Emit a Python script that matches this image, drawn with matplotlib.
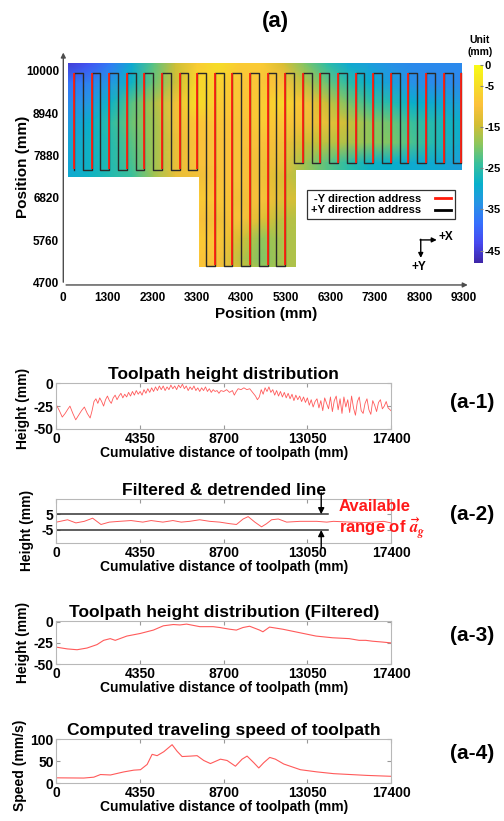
import numpy as np
import pandas as pd
import matplotlib
matplotlib.use('Agg')
import matplotlib.pyplot as plt
from matplotlib.colors import LinearSegmentedColormap
from matplotlib.patches import Polygon
from matplotlib.lines import Line2D

plt.rcParams['font.family'] = ['Liberation Sans', 'DejaVu Sans']
plt.rcParams['font.weight'] = 'bold'
plt.rcParams['axes.labelweight'] = 'bold'
plt.rcParams['axes.titleweight'] = 'bold'
plt.rcParams['axes.unicode_minus'] = False
plt.rcParams['mathtext.fontset'] = 'stix'

nan = np.nan

# ---------------- (a) floor height map ----------------
map_x = [100, 600, 1100, 1600, 2100, 2600, 3100, 3600, 4100, 4600,
         5100, 5600, 6100, 6600, 7100, 7600, 8100, 8600, 9250]
map_y = [10190, 9700, 9200, 8700, 8200, 7700, 7350, 6800, 6300, 5800, 5300, 5100]
map_z = [
    [-45, -42, -37, -30, -22, -15, -8, -5, -8, -8, -14, -20, -25, -30, -32, -34, -35, -35, -35],
    [-38, -36, -33, -28, -21, -15, -6, -7, -9, -9, -10, -16, -21, -25, -29, -32, -34, -35, -35],
    [-35, -33, -28, -22, -17, -11, -5, -8, -9, -8, -6, -10, -15, -20, -24, -26, -29, -30, -32],
    [-33, -29, -25, -21, -18, -11, -9, -9, -10, -8, -9, -11, -12, -15, -19, -21, -24, -26, -29],
    [-31, -28, -26, -22, -18, -12, -10, -10, -10, -10, -11, -15, -16, -17, -19, -20, -23, -26, -30],
    [-31, -28, -26, -23, -18, -12, -10, -10, -10, -11, -12, -18, -22, -25, -28, -29, -30, -30, -32],
    [-30, -28, -26, -24, -18, -12, -11, -10, -10, -11, -14, nan, nan, nan, nan, nan, nan, nan, nan],
    [nan, nan, nan, nan, nan, nan, -8, -9, -11, -10, -13, -15, nan, nan, nan, nan, nan, nan, nan],
    [nan, nan, nan, nan, nan, nan, -10, -11, -10, -13, -16, -17, nan, nan, nan, nan, nan, nan, nan],
    [nan, nan, nan, nan, nan, nan, -8, -9, -14, -19, -17, -17, nan, nan, nan, nan, nan, nan, nan],
    [nan, nan, nan, nan, nan, nan, -9, -10, -16, -20, -17, -17, nan, nan, nan, nan, nan, nan, nan],
    [nan, nan, nan, nan, nan, nan, -9, -10, -15, -19, -17, -17, nan, nan, nan, nan, nan, nan, nan],
]
# outline of the measured floor (T shape)
area_x = [100, 9250, 9250, 5400, 5400, 3150, 3150, 100]
area_y = [10190, 10190, 7521, 7521, 5100, 5100, 7354, 7354]

# serpentine toolpath: 45 vertical passes
path_first_x = 248
path_pitch = 204.2
path_top = 9958
pass_bottom = [7521] * 7 + [5125] * 5 + [7689] * 10   # one per +Y (down) pass

pos_ticks = ['0', '1300', '2300', '3300', '4300', '5300', '6300', '7300', '8300', '9300']
y_ticks = [10000, 8940, 7880, 6820, 5760, 4700]
cbar_ticks = [0, -5, -15, -25, -35, -45]

# ---------------- (a-1) .. (a-4) profiles ----------------
raw_x = [0, 150, 300, 450, 600, 700, 850, 1000, 1150, 1300,
         1450, 1600, 1750, 1850, 1950, 2050, 2150, 2250, 2350, 2450,
         2550, 2650, 2750, 2850, 2950, 3050, 3150, 3250, 3350, 3450,
         3550, 3650, 3750, 3850, 3950, 4050, 4150, 4250, 4350, 4450,
         4550, 4650, 4750, 4850, 4950, 5050, 5150, 5250, 5350, 5450,
         5550, 5650, 5750, 5850, 5950, 6050, 6150, 6250, 6350, 6450,
         6550, 6650, 6750, 6850, 6950, 7050, 7150, 7250, 7350, 7450,
         7550, 7650, 7750, 7850, 7950, 8050, 8150, 8250, 8350, 8450,
         8550, 8700, 8850, 9000, 9150, 9250, 9350, 9450, 9600, 9750,
         9900, 10050, 10200, 10350, 10450, 10550, 10650, 10750, 10850, 10950,
         11050, 11150, 11250, 11350, 11450, 11550, 11650, 11750, 11850, 11950,
         12050, 12150, 12250, 12350, 12450, 12550, 12650, 12750, 12850, 12950,
         13050, 13150, 13250, 13350, 13450, 13550, 13650, 13750, 13850, 13950,
         14050, 14150, 14250, 14350, 14450, 14550, 14650, 14750, 14850, 14950,
         15050, 15150, 15250, 15350, 15450, 15550, 15650, 15750, 15850, 15950,
         16050, 16150, 16250, 16350, 16450, 16550, 16650, 16750, 16850, 16950,
         17050, 17150, 17250, 17400]
raw_h = [-24, -30, -37, -33, -28, -25, -33, -40, -35, -30,
         -26, -33, -38, -30, -20, -17, -22, -16, -20, -25,
         -18, -14, -19, -22, -16, -13, -18, -14, -11, -16,
         -12, -15, -10, -14, -9, -13, -8, -12, -9, -13,
         -7, -11, -6, -10, -5, -9, -4, -8, -3, -7,
         -3, -8, -4, -7, -2, -6, -3, -7, -2, -5,
         -1, -6, -3, -8, -4, -7, -3, -8, -5, -9,
         -5, -8, -4, -9, -6, -10, -7, -9, -8, -11,
         -8, -9, -7, -10, -8, -13, -9, -6, -7, -5,
         -7, -6, -10, -14, -18, -15, -7, -12, -5, -9,
         -4, -10, -7, -13, -8, -14, -9, -15, -10, -16,
         -11, -17, -12, -19, -13, -18, -14, -20, -15, -21,
         -16, -24, -18, -26, -20, -17, -27, -19, -30, -16,
         -22, -28, -15, -31, -19, -14, -29, -17, -33, -15,
         -26, -18, -32, -14, -27, -35, -20, -15, -30, -33,
         -22, -17, -29, -34, -19, -24, -31, -21, -18, -28,
         -25, -20, -27, -30]

det_x = [0, 574, 1009, 1444, 1879, 2314, 2749, 3271, 3880, 4489,
         4924, 5533, 6055, 6490, 6925, 7447, 7969, 8491, 9013, 9361,
         9709, 9970, 10318, 10666, 10927, 11188, 11536, 11971, 12667, 13537,
         14059, 14407, 15277, 16147, 17017, 17400]
det_h = [0, 1.5, -0.5, 0.5, 2.5, -1.5, 0, 0.5, 1, 0,
         1, 0, 1, 0, 0.5, 1.5, 0.5, 0, -1, -1.5,
         2, 3.5, 0, -3, -1, 1.5, 2, 0, 0.5, 0.5,
         0, 0.5, 0, -0.3, 0.5, -0.5]
range_limits = [5, -5]

filt_x = [0, 552, 1070, 1588, 2106, 2451, 2796, 3055, 3659, 4350,
          5040, 5558, 6076, 6421, 6766, 7457, 8147, 8492, 9010, 9355,
          9700, 10045, 10563, 10736, 11081, 11771, 12634, 13497, 14360, 15223,
          15741, 16086, 16431, 16949, 17400]
filt_h = [-30, -32, -33, -31, -27, -22, -20, -22, -17, -14,
          -10, -5, -3.5, -4, -3, -6, -6, -7, -9, -10,
          -7, -5.5, -10, -12, -6.5, -9, -13, -17, -19, -20,
          -22, -22, -23, -24, -25]

speed_x = [0, 1421, 1941, 2288, 2808, 3501, 4021, 4368, 4715, 4974,
           5234, 5581, 6014, 6274, 6534, 6967, 7314, 7660, 8007, 8527,
           8874, 9307, 9654, 9914, 10261, 10521, 10780, 11092, 11387, 11820,
           12686, 13553, 14420, 15287, 16153, 17400]
speed_v = [12.5, 12, 14, 20, 19, 26, 30, 31, 43, 66,
           63, 72, 88, 73, 61, 62, 63, 52, 45, 55,
           52, 39, 55, 62, 47, 35, 47, 59, 55, 44,
           31, 26, 22, 20, 18, 16]

dist_ticks = [0, 4350, 8700, 13050, 17400]

# parula-like colour map
parula = LinearSegmentedColormap.from_list('parula', [
    (0.242, 0.150, 0.660), (0.278, 0.284, 0.938), (0.213, 0.437, 0.992),
    (0.152, 0.581, 0.896), (0.031, 0.692, 0.796), (0.217, 0.753, 0.615),
    (0.549, 0.778, 0.366), (0.830, 0.745, 0.202), (0.990, 0.756, 0.232),
    (0.963, 0.872, 0.153), (0.977, 0.984, 0.081)])

fig = plt.figure(figsize=(5.04, 8.21), dpi=100)

# ---------- map ----------
ax = fig.add_axes([0.1256, 0.6529, 0.804, 0.2865])
z = pd.DataFrame(map_z).ffill().values
X, Y = np.meshgrid(map_x, map_y)
mesh = ax.pcolormesh(X, Y, z, shading='gouraud', cmap=parula, vmin=-48, vmax=0)
area = Polygon(np.column_stack([area_x, area_y]), closed=True, fc='none', ec='none')
ax.add_patch(area)
mesh.set_clip_path(area)

xs = path_first_x + path_pitch * np.arange(2 * len(pass_bottom) + 1)
bottoms = []
for i in range(len(xs)):
    if i % 2 == 1:
        bottoms.append(pass_bottom[(i - 1) // 2])
    else:
        bottoms.append(pass_bottom[max(i - 2, 0) // 2])
px, py = [], []
for i, (x, b) in enumerate(zip(xs, bottoms)):
    if i % 2 == 0:
        px += [x, x]; py += [b, path_top]
    else:
        px += [x, x]; py += [path_top, b]
ax.plot(px, py, color='#2a2a2a', lw=1.0, zorder=3)
for i in range(0, len(xs), 2):
    ax.plot([xs[i], xs[i]], [bottoms[i] + 15, path_top - 15], color='#ff2010',
            lw=1.3, zorder=4, solid_capstyle='butt')

ax.set_xlim(0, 9400)
ax.set_ylim(4640, 10530)
for s in ax.spines.values():
    s.set_visible(False)
ax.annotate('', xy=(1.005, 0), xytext=(0, 0), xycoords='axes fraction',
            arrowprops=dict(arrowstyle='-|>', color='0.3', lw=1, mutation_scale=7))
ax.annotate('', xy=(0, 1.0), xytext=(0, 0), xycoords='axes fraction',
            arrowprops=dict(arrowstyle='-|>', color='0.3', lw=1, mutation_scale=7))
ax.set_xticks(np.linspace(0, 9300, len(pos_ticks)))
ax.set_xticklabels(pos_ticks)
ax.set_yticks(y_ticks)
ax.tick_params(length=0, labelsize=8.5, pad=3)
ax.tick_params(axis='x', pad=5)
ax.set_xlabel('Position (mm)', fontsize=11, labelpad=2)
ax.set_ylabel('Position (mm)', fontsize=11)
ax.yaxis.set_label_coords(-0.082, 0.5)

handles = [Line2D([], [], color='#ff1a0a', lw=2), Line2D([], [], color='black', lw=2)]
leg = ax.legend(handles, ['-Y direction address', '+Y direction address'],
                loc='upper left', bbox_to_anchor=(0.601, 0.404), borderaxespad=0,
                markerfirst=False, handlelength=1.4, fontsize=8, fancybox=False,
                framealpha=1, edgecolor='0.2', borderpad=0.35, labelspacing=0.15,
                handletextpad=1.3)
leg.get_frame().set_linewidth(0.9)

# axis direction marker
ax.annotate('', xy=(8663, 5768), xytext=(8275, 5768),
            arrowprops=dict(arrowstyle='-|>', color='black', lw=1, mutation_scale=7,
                            shrinkA=0, shrinkB=0))
ax.annotate('', xy=(8292, 5317), xytext=(8292, 5785),
            arrowprops=dict(arrowstyle='-|>', color='black', lw=1, mutation_scale=7,
                            shrinkA=0, shrinkB=0))
ax.text(8700, 5830, '+X', fontsize=8.5, va='center', ha='left')
ax.text(8240, 5080, '+Y', fontsize=8.5, va='center', ha='center')

cax = fig.add_axes([0.9405, 0.6797, 0.0179, 0.2412])
cb = fig.colorbar(mesh, cax=cax, ticks=cbar_ticks)
cb.outline.set_visible(False)
cax.tick_params(length=2, direction='in', color='0.5', labelsize=8, pad=1)
fig.text(480 / 504, 1 - 46 / 821, 'Unit\n(mm)', ha='center', va='center',
         fontsize=7.5, linespacing=1.15)
fig.text(0.546, 1 - 21 / 821, '(a)', ha='center', va='center', fontsize=16)


# ---------- profiles ----------
def profile_axes(rect, title):
    a = fig.add_axes(rect)
    for s in a.spines.values():
        s.set_color('0.72')
    a.set_xlim(0, 17400)
    a.set_xticks(dist_ticks)
    a.tick_params(direction='in', top=True, right=True, length=3, color='0.6',
                  labelsize=10, pad=2)
    a.set_title(title, fontsize=12.5, pad=3)
    a.set_xlabel('Cumulative distance of toolpath (mm)', fontsize=10, labelpad=0)
    return a

line_red = '#ff5a5a'

a1 = profile_axes([0.1121, 0.4775, 0.6637, 0.0557], 'Toolpath height distribution')
a1.plot(raw_x, raw_h, color=line_red, lw=0.6)
a1.set_ylim(-50, 0)
a1.set_yticks([0, -25, -50])
a1.set_ylabel('Height (mm)', fontsize=10)
a1.yaxis.set_label_coords(-0.078, 0.45)

a2 = profile_axes([0.1121, 0.3382, 0.6637, 0.0536], 'Filtered & detrended line')
a2.plot(det_x, det_h, color=line_red, lw=0.7)
for lim in range_limits:
    a2.plot([0, 14100], [lim, lim], color='#333333', lw=1.1)
a2.annotate('', xy=(13770, range_limits[0]), xytext=(13770, 18.6),
            arrowprops=dict(arrowstyle='-|>', color='black', lw=1, mutation_scale=9,
                            shrinkA=0, shrinkB=0))
a2.annotate('', xy=(13770, range_limits[1]), xytext=(13770, -16.5),
            arrowprops=dict(arrowstyle='-|>', color='black', lw=1, mutation_scale=9,
                            shrinkA=0, shrinkB=0))
a2.set_ylim(-13.5, 14.5)
a2.set_yticks(range_limits)
a2.set_ylabel('Height (mm)', fontsize=10)
a2.yaxis.set_label_coords(-0.067, 0.3)
fig.text(339 / 504, 1 - 520 / 821, 'Available\nrange of $\\vec{a}_g$', color='#ff1a1a',
         fontsize=12, ha='left', va='center', linespacing=1.15)

a3 = profile_axes([0.1121, 0.1909, 0.6637, 0.0531], 'Toolpath height distribution (Filtered)')
a3.plot(filt_x, filt_h, color=line_red, lw=0.8)
a3.set_ylim(-50, 1)
a3.set_yticks([0, -25, -50])
a3.set_ylabel('Height (mm)', fontsize=10)
a3.yaxis.set_label_coords(-0.078, 0.5)

a4 = profile_axes([0.1121, 0.0459, 0.6637, 0.054], 'Computed traveling speed of toolpath')
a4.plot(speed_x, speed_v, color=line_red, lw=0.8)
a4.set_ylim(0, 101)
a4.set_yticks([0, 50, 100])
a4.set_ylabel('Speed (mm/s)', fontsize=10)
a4.yaxis.set_label_coords(-0.088, 0.4)

for lab, yy in [('(a-1)', 402), ('(a-2)', 515), ('(a-3)', 635), ('(a-4)', 753)]:
    fig.text(472 / 504, 1 - yy / 821, lab, ha='center', va='center', fontsize=15)

fig.savefig('out.png', dpi=100)
